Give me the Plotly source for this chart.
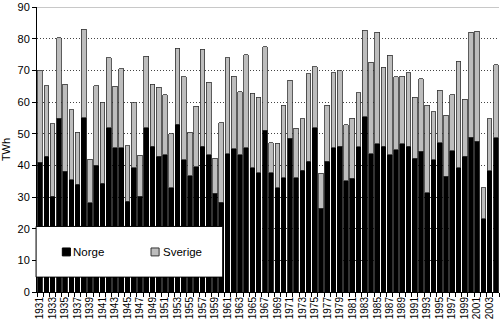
import plotly.graph_objects as go

years = list(range(1931, 2005))
norge = [40.9, 42.9, 30.2, 54.9, 38.1, 35.4, 34.1, 55.1, 28.2, 40.1,
         34.4, 51.8, 45.6, 45.6, 28.6, 39.3, 30.3, 51.8, 46.0, 42.8,
         43.3, 32.9, 53.0, 41.7, 36.7, 39.5, 46.0, 43.3, 31.2, 28.4,
         43.6, 45.2, 43.3, 45.6, 39.2, 37.6, 51.1, 37.6, 33.0, 36.1,
         48.5, 36.1, 38.5, 41.3, 51.9, 26.4, 41.3, 45.6, 46.0, 35.2,
         36.0, 45.8, 55.3, 43.6, 46.8, 46.0, 43.3, 45.0, 46.8, 46.0,
         42.3, 44.4, 31.4, 41.7, 47.1, 36.5, 44.6, 39.2, 42.9, 48.8,
         47.6, 23.1, 38.3, 48.7]
sverige = [29.2, 22.2, 23.0, 25.4, 27.5, 22.1, 16.3, 27.9, 13.7, 25.0,
           25.6, 22.1, 19.3, 24.9, 17.6, 20.4, 12.9, 22.7, 19.6, 21.9,
           19.0, 17.1, 23.9, 26.2, 13.7, 19.2, 30.7, 23.0, 11.1, 25.0,
           30.3, 22.9, 19.9, 29.3, 23.5, 23.9, 26.3, 9.6, 13.9, 22.9,
           18.3, 15.6, 16.2, 27.7, 19.3, 11.1, 17.7, 23.6, 23.9, 17.6,
           18.9, 17.1, 27.4, 29.0, 35.3, 24.9, 31.4, 22.9, 21.3, 23.3,
           19.2, 23.0, 27.6, 15.2, 16.6, 19.3, 17.7, 33.6, 18.0, 33.3,
           34.8, 9.8, 16.4, 23.1]
series_names = ["Norge", "Sverige"]
tick_years = list(range(1931, 2005, 2))
y_ticks = list(range(0, 91, 10))

FONT = "Liberation Sans, Arial, sans-serif"
NORGE_COLOR = "#000000"
SVERIGE_COLOR = "#bdbdbd"

fig = go.Figure()
fig.add_trace(go.Bar(x=years, y=norge, name=series_names[0], showlegend=False,
                     marker=dict(color=NORGE_COLOR, line=dict(color="#000000", width=0.8))))
fig.add_trace(go.Bar(x=years, y=sverige, name=series_names[1], showlegend=False,
                     marker=dict(color=SVERIGE_COLOR, line=dict(color="#333333", width=0.8))))

fig.update_layout(
    barmode="stack",
    bargap=0.25,
    width=500, height=328,
    margin=dict(l=37, r=1, t=5, b=36),
    paper_bgcolor="white", plot_bgcolor="white",
    font=dict(family=FONT, size=11, color="black"),
    showlegend=False,
)
fig.update_xaxes(
    range=[1930.5, 2004.5], tickmode="array", tickvals=tick_years,
    ticktext=[str(y) for y in tick_years], tickangle=-90,
    tickfont=dict(size=10, family=FONT), ticks="", showline=True,
    linecolor="black", linewidth=1, showgrid=False, zeroline=False,
    minor=dict(ticks="outside", tick0=1930.5, dtick=1, ticklen=4, tickcolor="black", showgrid=False),
)
fig.update_yaxes(
    range=[0, 90], tickvals=y_ticks, ticks="outside", ticklen=4, tickcolor="black",
    showline=True, linecolor="black", linewidth=1, ticklabeloverflow="allow",
    showgrid=True, gridcolor="#444444", griddash="1px,2px", gridwidth=1,
    zeroline=False, tickfont=dict(size=11, family=FONT),
    title=dict(text="TWh", font=dict(size=11, family=FONT), standoff=8),
)
# top boundary line at 90
fig.add_shape(type="line", xref="paper", yref="y", x0=0, x1=1, y0=90, y1=90,
              line=dict(color="#c8c8c8", width=2), layer="above")
# legend box
fig.add_shape(type="rect", xref="paper", yref="y", x0=-0.002, x1=0.402, y0=4.7, y1=20.7,
              fillcolor="white", line=dict(color="black", width=1), layer="above")
# legend entries
legend_items = [
    (series_names[0], NORGE_COLOR, "#000000", 0.0548, 0.0736),
    (series_names[1], SVERIGE_COLOR, "#333333", 0.2468, 0.2677),
]
for name, fill, edge, mx, tx in legend_items:
    fig.add_shape(type="rect", xref="paper", yref="y", x0=mx, x1=mx + 0.0175,
                  y0=11.4, y1=13.9, fillcolor=fill, line=dict(color=edge, width=1), layer="above")
    fig.add_annotation(text=name, xref="paper", yref="y", x=tx, y=12.7,
                       xanchor="left", yanchor="middle", showarrow=False,
                       font=dict(size=11.5, family=FONT, color="black"))

fig.write_html("out.html")
